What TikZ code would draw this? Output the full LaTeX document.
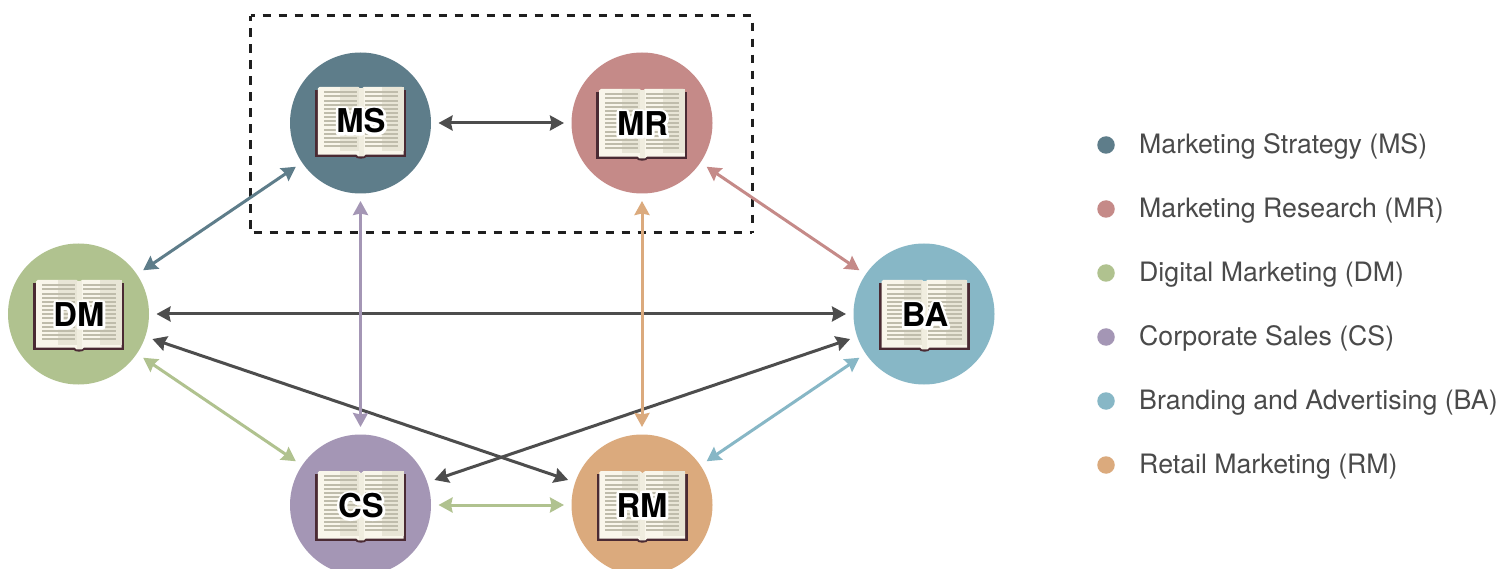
\documentclass[tikz,border=0pt]{standalone}
\usepackage{fontspec}
\setmainfont{TeX Gyre Heros}
\usetikzlibrary{arrows.meta}
\definecolor{cMS}{HTML}{5E7D8A}
\definecolor{cMR}{HTML}{C58A88}
\definecolor{cDM}{HTML}{B0C28F}
\definecolor{cCS}{HTML}{A496B5}
\definecolor{cBA}{HTML}{87B7C6}
\definecolor{cRM}{HTML}{DBAA7D}
\definecolor{cDark}{HTML}{4D4D4D}
\definecolor{cText}{HTML}{4A4A4A}
\definecolor{bkCover}{HTML}{4A2A33}
\definecolor{bkPage}{HTML}{F9F6EB}
\definecolor{bkShade}{HTML}{E8E5D6}
\definecolor{bkLine}{HTML}{BFBCAB}
\newcommand{\haloed}[1]{\rlap{\special{pdf:code q 1 j 1 J 2 Tr 5.4 w 1 1 1 RG 1 1 1 rg}#1\special{pdf:code Q}}#1}
\tikzset{
  x=1pt,y=-1pt,
  subject/.style={circle,fill=#1,minimum size=141pt,inner sep=0pt,outer sep=7.5pt},
  link/.style={draw=#1,line width=3pt,{Stealth[length=14pt,width=15pt,inset=1.5pt]}-{Stealth[length=14pt,width=15pt,inset=1.5pt]}},
  code/.style={font=\fontsize{32.8}{33}\bfseries\selectfont,text=black,inner sep=0pt},
  dot/.style={circle,fill=#1,minimum size=17.5pt,inner sep=0pt},
  legendtext/.style={font=\fontsize{26.7}{30}\selectfont,text=cText,anchor=west,inner sep=0pt},
  boxdash/.style={draw=black!88,line width=3pt,dash pattern=on 8.5pt off 7.5pt,dash phase=3.8pt},
  book/.pic={
    \fill[bkCover] (-45.5,-32.3) rectangle (45.5,35.3);
    \fill[bkCover] (0.3,34.5) ellipse (5.5 and 2.2);
    \fill[bkPage] (-42.7,-33.5) to[out=-80,in=180] (-41,-35) -- (-2.2,-35) -- (0.5,-32.8) -- (3.2,-35) -- (41.5,-35) to[out=0,in=-100] (43,-33.5) -- (43,32.7) -- (5,32.7) -- (3.2,34.4) -- (-2.2,34.4) -- (-4,32.7) -- (-42.7,32.7) -- cycle;
    \fill[bkShade] (-20.3,-35) rectangle (-2,29.5);
    \fill[bkShade] (21.3,-35) rectangle (43,29.5);
    \fill[bkShade!55!bkPage] (-2,-33.5) rectangle (3,34);
    \foreach \r in {0,...,13}{
      \fill[bkLine] (-37,-30.7+4.15*\r) rectangle (-3.7,-28.7+4.15*\r);
      \fill[bkLine] (4,-30.7+4.15*\r) rectangle (37.3,-28.7+4.15*\r);
    }
  }
}
\begin{document}
\begin{tikzpicture}
\clip (0,0) rectangle (1510,569);
\fill[white] (0,0) rectangle (1510,569);
\draw[boxdash] (250.5,16) -- (752,16) -- (752,233);
\draw[boxdash] (250.5,16) -- (250.5,233) -- (752,233);
\node[subject=cMS] (MS) at (360.5,123) {};
\node[subject=cMR] (MR) at (642,123) {};
\node[subject=cDM] (DM) at (78.5,314) {};
\node[subject=cBA] (BA) at (924,314) {};
\node[subject=cCS] (CS) at (360.5,505) {};
\node[subject=cRM] (RM) at (642,505) {};
\pic at (360.5,122) {book};
\pic at (641.8,124) {book};
\pic at (78.7,315) {book};
\pic at (924.2,315) {book};
\pic at (360.5,506) {book};
\pic at (642,506) {book};
\node[code] (lMS) at (361,121) {\haloed{MS}};
\node[code] (lMR) at (642.5,124) {\haloed{MR}};
\node[code] (lDM) at (79,315) {\haloed{DM}};
\node[code] (lBA) at (925,315) {\haloed{BA}};
\node[code] (lCS) at (361,506) {\haloed{CS}};
\node[code] (lRM) at (642,505.3) {\haloed{RM}};
\draw[link=cDark] (MS) -- (MR);
\draw[link=cMS] (MS) -- (DM);
\draw[link=cMR] (MR) -- (BA);
\draw[link=cDark] (DM) -- (BA);
\draw[link=cDark] (DM) -- (RM);
\draw[link=cDark] (CS) -- (BA);
\draw[link=cCS] (MS) -- (CS);
\draw[link=cRM] (MR) -- (RM);
\draw[link=cDM] (DM) -- (CS);
\draw[link=cDM] (CS) -- (RM);
\draw[link=cBA] (RM) -- (BA);
\node[dot=cMS] (d1) at (1106,145) {};
\node[dot=cMR] (d2) at (1106,209) {};
\node[dot=cDM] (d3) at (1106,273) {};
\node[dot=cCS] (d4) at (1106,337) {};
\node[dot=cBA] (d5) at (1106,401) {};
\node[dot=cRM] (d6) at (1106,465) {};
\node[legendtext] (t1) at (1139,146.5) {Marketing Strategy (MS)};
\node[legendtext] (t2) at (1139,210.5) {Marketing Research (MR)};
\node[legendtext] (t3) at (1139,274.5) {Digital Marketing (DM)};
\node[legendtext] (t4) at (1139,338.5) {Corporate Sales (CS)};
\node[legendtext] (t5) at (1139,402.5) {Branding and Advertising (BA)};
\node[legendtext] (t6) at (1139,466.5) {Retail Marketing (RM)};
\end{tikzpicture}
\end{document}
